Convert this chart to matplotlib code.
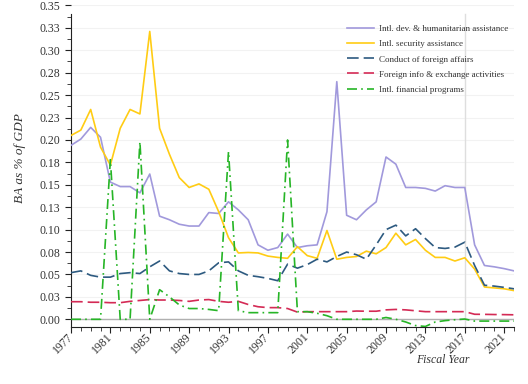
#!/usr/bin/env python3
"""International affairs budget authority as a share of GDP, FY1977-2022."""

import numpy as np
import matplotlib
matplotlib.use("Agg")
import matplotlib.pyplot as plt
from matplotlib.ticker import MultipleLocator, FixedLocator

years = list(range(1977, 2023))

dev_humanitarian = [
    0.194, 0.201, 0.214, 0.203, 0.153, 0.148, 0.148, 0.141, 0.162, 0.115,
    0.111, 0.106, 0.104, 0.104, 0.119, 0.118, 0.131, 0.122, 0.111, 0.083,
    0.077, 0.080, 0.095, 0.080, 0.082, 0.083, 0.120, 0.265, 0.116, 0.111,
    0.122, 0.131, 0.181, 0.173, 0.147, 0.147, 0.146, 0.143, 0.149, 0.147,
    0.147, 0.083, 0.060, 0.0585, 0.0565, 0.054,
]
security = [
    0.205, 0.211, 0.234, 0.192, 0.172, 0.213, 0.234, 0.229, 0.321, 0.213,
    0.184, 0.158, 0.147, 0.151, 0.145, 0.120, 0.091, 0.074, 0.0745, 0.074,
    0.0705, 0.069, 0.068, 0.081, 0.071, 0.068, 0.099, 0.067, 0.069, 0.070,
    0.076, 0.073, 0.080, 0.096, 0.083, 0.089, 0.077, 0.069, 0.069, 0.065,
    0.0686, 0.056, 0.036, 0.035, 0.034, 0.032,
]
foreign_affairs = [
    0.052, 0.054, 0.049, 0.047, 0.047, 0.051, 0.052, 0.051, 0.0585, 0.065,
    0.054, 0.051, 0.050, 0.050, 0.054, 0.063, 0.064, 0.054, 0.049, 0.0475,
    0.0456, 0.043, 0.0615, 0.057, 0.061, 0.067, 0.064, 0.070, 0.075, 0.072,
    0.067, 0.083, 0.100, 0.105, 0.093, 0.101, 0.090, 0.080, 0.079, 0.0805,
    0.086, 0.060, 0.038, 0.037, 0.0356, 0.034,
]
info_exchange = [
    0.0196, 0.0196, 0.019, 0.019, 0.0185, 0.0185, 0.020, 0.021, 0.022, 0.0215,
    0.0215, 0.021, 0.020, 0.0215, 0.022, 0.020, 0.019, 0.020, 0.0165, 0.014,
    0.013, 0.013, 0.012, 0.008, 0.0085, 0.0085, 0.0085, 0.0085, 0.0085, 0.0092,
    0.009, 0.009, 0.0105, 0.011, 0.0105, 0.0095, 0.0085, 0.0085, 0.0085, 0.0085,
    0.0085, 0.0056, 0.0055, 0.0053, 0.0052, 0.005,
]
financial = [
    0.0, 0.0, 0.0, 0.0, 0.178, 0.0, 0.0, 0.198, 0.0, 0.033,
    0.025, 0.016, 0.012, 0.012, 0.011, 0.0096, 0.187, 0.0096, 0.0074, 0.0074,
    0.0074, 0.0074, 0.200, 0.0085, 0.0085, 0.0067, 0.004, 0.0, 0.0, 0.0,
    0.0, 0.0, 0.002, 0.0, -0.003, -0.007, -0.008, -0.003, -0.0015, -0.0005,
    0.0003, -0.002, -0.002, -0.002, -0.002, -0.002,
]

y_ticks = [i * 0.025 for i in range(15)]
y_tick_labels = ["0.00", "0.03", "0.05", "0.08", "0.10", "0.13", "0.15", "0.18",
                 "0.20", "0.23", "0.25", "0.28", "0.30", "0.33", "0.35"]
x_ticks = list(range(1977, 2023, 4))

series = [
    ("Intl. dev. & humanitarian assistance", dev_humanitarian, "#a199dc", "-"),
    ("Intl. security assistance", security, "#ffcc14", "-"),
    ("Conduct of foreign affairs", foreign_affairs, "#2d5a80", (0, (7, 3))),
    ("Foreign info & exchange activities", info_exchange, "#d42a55", (0, (7, 3))),
    ("Intl. financial programs", financial, "#26b526", (0, (6, 2.5, 1, 2.5))),
]

plt.rcParams["font.family"] = ["Liberation Serif", "DejaVu Serif"]

fig = plt.figure(figsize=(5.28, 3.84), dpi=100)
ax = fig.add_axes([71 / 528, 57 / 384, 443 / 528, 322 / 384])

y_bottom = -0.0086
spine_top = 0.341
ax.set_xlim(1977, 2022)
ax.set_ylim(y_bottom, 0.3505)

# faint grid and reference lines
for t in y_ticks:
    ax.axhline(t, color="#f2f2f2", lw=0.8, zorder=0)
ax.axhline(0, color="#b0b0b0", lw=1.0, zorder=1)
ax.axvline(2017, ymax=(spine_top - y_bottom) / (0.3505 - y_bottom),
           color="#dedede", lw=1.0, zorder=1)

for label, vals, color, ls in series:
    ax.plot(years, vals, color=color, linestyle=ls, lw=1.2, label=label, zorder=3)

for side in ["top", "right"]:
    ax.spines[side].set_visible(False)
ax.spines["left"].set_bounds(y_bottom, spine_top)
ax.spines["left"].set_color("#222222")
ax.spines["bottom"].set_color("#222222")

ax.yaxis.set_major_locator(FixedLocator(y_ticks))
ax.set_yticklabels(y_tick_labels)
ax.yaxis.set_minor_locator(MultipleLocator(0.0125))
ax.xaxis.set_major_locator(FixedLocator(x_ticks))
ax.xaxis.set_minor_locator(MultipleLocator(1))
ax.set_xticklabels([str(y) for y in x_ticks], rotation=45, ha="right",
                   va="center", rotation_mode="anchor")
ax.tick_params(axis="both", which="major", length=4, width=0.8,
               labelsize=8.5, colors="#222222", labelcolor="#333333")
ax.tick_params(axis="x", which="major", labelsize=8.5, pad=2)
ax.tick_params(axis="both", which="minor", length=3, width=0.6, colors="#222222")

leg = ax.legend(loc="upper left", bbox_to_anchor=(0.605, 0.963), frameon=False,
                fontsize=6.5, handlelength=3.0, handletextpad=0.5,
                labelspacing=0.75)
for text in leg.get_texts():
    text.set_color("#333333")

fig.text(20 / 528, 1 - 158 / 384, "BA as % of GDP", rotation=90, style="italic",
         ha="center", va="center", fontsize=9.5, color="#333333")
fig.text(443 / 528, 1 - 360 / 384, "Fiscal Year", style="italic",
         ha="center", va="center", fontsize=8.5, color="#333333")

fig.savefig("out.png", dpi=100)
